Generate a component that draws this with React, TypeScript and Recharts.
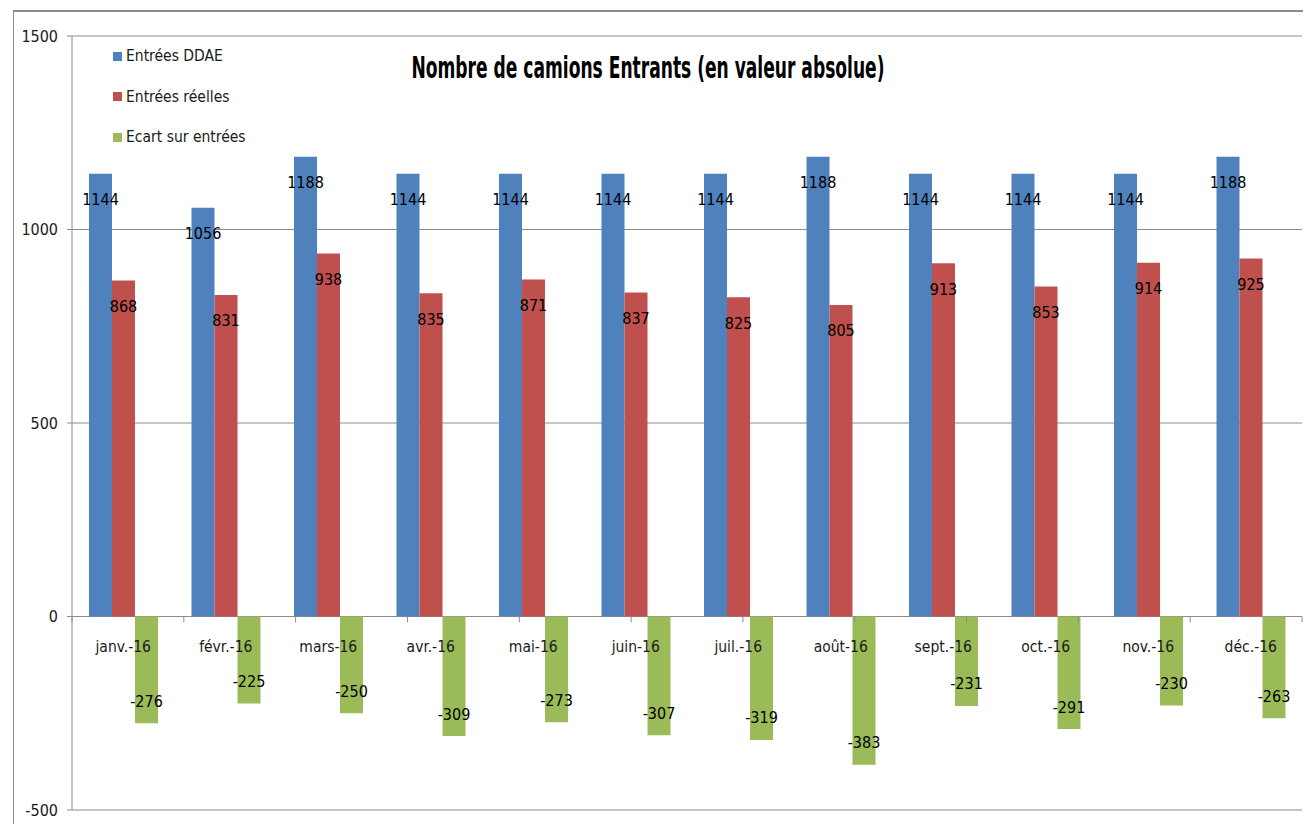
import React from 'react';
import {
  BarChart,
  Bar,
  XAxis,
  YAxis,
  CartesianGrid,
  LabelList,
  Legend,
  ReferenceLine,
  ReferenceDot,
} from 'recharts';

const months = [
  'janv.-16', 'févr.-16', 'mars-16', 'avr.-16', 'mai-16', 'juin-16',
  'juil.-16', 'août-16', 'sept.-16', 'oct.-16', 'nov.-16', 'déc.-16',
];
const entreesDDAE = [1144, 1056, 1188, 1144, 1144, 1144, 1144, 1188, 1144, 1144, 1144, 1188];
const entreesReelles = [868, 831, 938, 835, 871, 837, 825, 805, 913, 853, 914, 925];
const ecartEntrees = [-276, -225, -250, -309, -273, -307, -319, -383, -231, -291, -230, -263];
const seriesKeys = ['ddae', 'reelles', 'ecart'];
const seriesNames = ['Entrées DDAE', 'Entrées réelles', 'Ecart sur entrées'];
const seriesColors = ['#4F81BD', '#C0504D', '#9BBB59'];
const yTicks = [-500, 0, 500, 1000, 1500];
const categoryBoundaries = [0, 1, 2, 3, 4, 5, 6, 7, 8, 9, 10, 11, 12];
const title = 'Nombre de camions Entrants (en valeur absolue)';

const data = months.map((m, i) => ({
  month: m,
  ddae: entreesDDAE[i],
  reelles: entreesReelles[i],
  ecart: ecartEntrees[i],
}));

const FONT = '"Liberation Sans Narrow", "Arial Narrow", "DejaVu Sans Condensed", sans-serif';
const GRAY = '#8c8c8c';

const renderValueLabel = (props: any) => {
  const { x, y, width, height, value } = props;
  const nx = Number(x);
  const ny = Number(y);
  const nw = Number(width);
  const nh = Number(height);
  const top = Math.min(ny, ny + nh);
  const bottom = Math.max(ny, ny + nh);
  const cy = Number(value) >= 0 ? top + 26 : bottom - 22;
  return (
    <text
      x={nx + nw / 2}
      y={cy}
      textAnchor="middle"
      dominantBaseline="central"
      fontSize={16}
      fontFamily={FONT}
      fill="#000"
    >
      {value}
    </text>
  );
};

const renderLegend = () => (
  <div style={{ fontFamily: FONT, fontSize: 15.5, color: '#1a1a1a' }}>
    {seriesNames.map((name, i) => (
      <div
        key={name}
        style={{
          display: 'flex',
          alignItems: 'center',
          height: 20,
          marginBottom: i < seriesNames.length - 1 ? 20.5 : 0,
        }}
      >
        <span
          style={{
            display: 'inline-block',
            width: 9,
            height: 9,
            background: seriesColors[i],
            marginRight: 4,
          }}
        />
        <span>{name}</span>
      </div>
    ))}
  </div>
);

export default function App() {
  return (
    <div
      style={{
        position: 'relative',
        width: 1303,
        height: 824,
        marginBottom: -8,
        overflow: 'hidden',
        background: '#fff',
      }}
    >
      <div
        style={{
          position: 'absolute',
          left: 5,
          top: 2,
          width: 1400,
          height: 900,
          borderLeft: `1.5px solid ${GRAY}`,
          borderTop: `2px solid ${GRAY}`,
          boxSizing: 'border-box',
        }}
      />
      <svg
        width={1303}
        height={100}
        style={{ position: 'absolute', left: 0, top: 0, pointerEvents: 'none', zIndex: 2 }}
      >
        <text
          x={640}
          y={70}
          textAnchor="middle"
          fontFamily={FONT}
          fontWeight="bold"
          fontSize={30}
          fill="#000"
          textLength={473}
          lengthAdjust="spacingAndGlyphs"
        >
          {title}
        </text>
      </svg>
      <div style={{ position: 'absolute', left: 0, top: 0 }}>
        <BarChart
          width={1303}
          height={824}
          data={data}
          margin={{ top: 28, right: 9, bottom: 22, left: 0 }}
          barGap={0}
          barSize={23}
        >
          <CartesianGrid vertical={false} stroke={GRAY} strokeWidth={1} />
          <XAxis dataKey="month" hide />
          <XAxis xAxisId="n" type="number" domain={[0, 12]} allowDataOverflow hide />
          <YAxis
            width={64}
            domain={[-500, 1500]}
            ticks={yTicks}
            allowDataOverflow
            axisLine={{ stroke: GRAY }}
            tickLine={{ stroke: GRAY }}
            tickSize={5}
            tickMargin={9}
            tick={{ fill: '#1a1a1a', fontSize: 16, fontFamily: FONT }}
          />
          <Legend
            layout="vertical"
            align="center"
            verticalAlign="middle"
            content={renderLegend}
            wrapperStyle={{ left: 105, top: 38, width: 220, height: 'auto' }}
          />
          {seriesKeys.map((k, i) => (
            <Bar
              key={k}
              dataKey={k}
              name={seriesNames[i]}
              fill={seriesColors[i]}
              isAnimationActive={false}
            >
              <LabelList dataKey={k} content={renderValueLabel} />
            </Bar>
          ))}
          {categoryBoundaries.map((b) => (
            <ReferenceLine
              key={`t${b}`}
              xAxisId="n"
              segment={[
                { x: b, y: 0 },
                { x: b, y: -15 },
              ]}
              stroke={GRAY}
              ifOverflow="visible"
            />
          ))}
          {months.map((m) => (
            <ReferenceDot
              key={`l${m}`}
              x={m}
              y={0}
              r={0}
              fill="none"
              stroke="none"
              ifOverflow="visible"
              label={{
                value: m,
                position: 'bottom',
                offset: 24,
                fill: '#1a1a1a',
                fontSize: 15.5,
                fontFamily: FONT,
              }}
            />
          ))}
        </BarChart>
      </div>
    </div>
  );
}
